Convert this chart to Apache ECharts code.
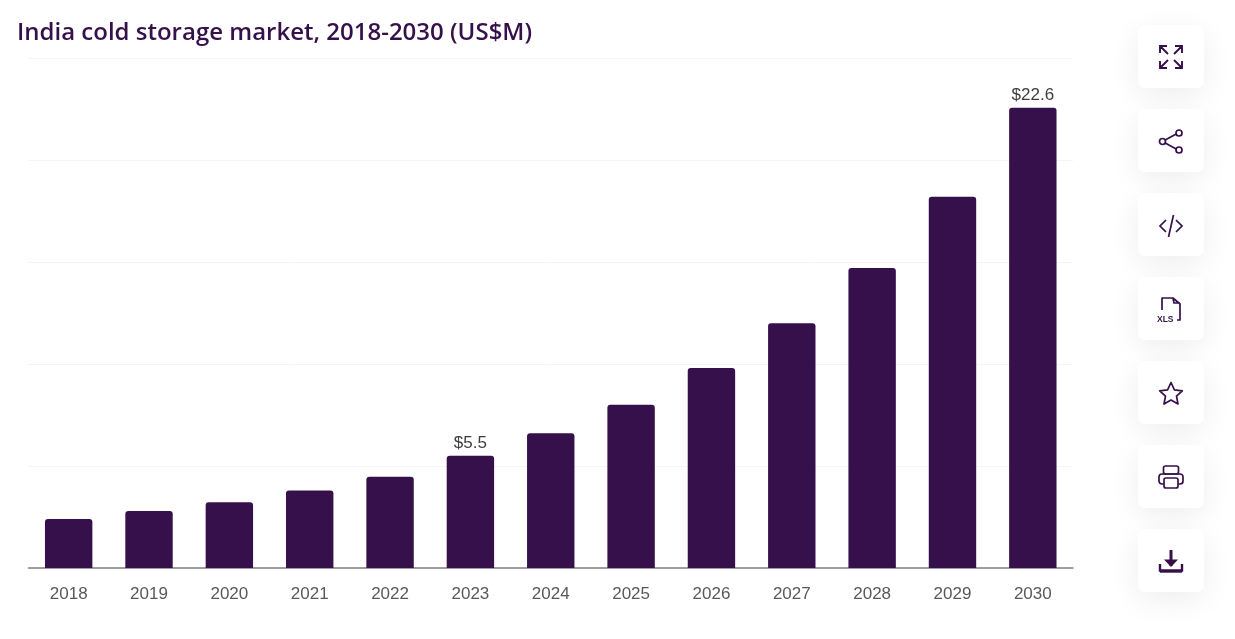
<!DOCTYPE html>
<html>
<head>
<meta charset="utf-8">
<title>India cold storage market</title>
<script src="https://cdn.jsdelivr.net/npm/echarts@6/dist/echarts.min.js"></script>
<style>
  html, body { margin: 0; padding: 0; background: #fff; overflow: hidden; }
  #chart { position: absolute; left: 0; top: 0; width: 1235px; height: 639px; }
  #tools { position: absolute; left: 1138px; top: 25px; }
  .tool {
    width: 66px; height: 63px; margin-bottom: 21px; background: #fff; border-radius: 7px;
    box-shadow: 0 8px 30px rgba(0, 0, 0, 0.07);
    display: flex; align-items: center; justify-content: center;
  }
  .tool svg { width: 28px; height: 28px; fill: none; stroke: #36104a; stroke-width: 1.7; }
</style>
</head>
<body>
<div id="chart"></div>
<div id="tools">
  <div class="tool"><svg viewBox="0 0 28 28" style="stroke-width:1.9"><path d="M3 3l8 8M3 10V3h7M25 3l-8 8M18 3h7v7M3 25l8-8M3 18v7h7M25 25l-8-8M25 18v7h-7"/></svg></div>
  <div class="tool"><svg viewBox="0 0 28 28"><circle cx="5.500" cy="14.500" r="3"/><circle cx="22" cy="6" r="3"/><circle cx="22" cy="23" r="3"/><path d="M8.200 13.100l11-6M8.200 15.900l11 6"/></svg></div>
  <div class="tool"><svg viewBox="0 0 28 28"><path d="M9 9l-6 6 6 6M19 9l6 6-6 6M16.500 4l-5 22"/></svg></div>
  <div class="tool"><svg viewBox="0 0 28 28"><path d="M5 15V3h11l7 6v16h-3M16 3l1 5h6" stroke-linejoin="round"/><text x="0" y="27" font-family="Liberation Sans" font-size="8.500" font-weight="700" fill="#36104a" stroke="none">XLS</text></svg></div>
  <div class="tool"><svg viewBox="0 0 28 28"><path d="M14 3.500l3.400 7.300 7.900 1-5.800 5.400 1.500 7.800-7-3.900-7 3.900 1.500-7.800-5.800-5.400 7.900-1z" stroke-linejoin="round"/></svg></div>
  <div class="tool"><svg viewBox="0 0 28 28"><rect x="6.500" y="3" width="15" height="8" rx="2"/><path d="M7 21H5a3 3 0 0 1-3-3v-4a3 3 0 0 1 3-3h18a3 3 0 0 1 3 3v4a3 3 0 0 1-3 3h-2"/><rect x="7" y="15" width="14" height="10" rx="2"/></svg></div>
  <div class="tool"><svg viewBox="0 0 28 28"><path d="M14 3v16" style="stroke-width:3"/><path d="M7 12.500h14L14 20z" fill="#36104a" stroke="none"/><path d="M3 17v6.500h22V17" style="stroke-width:2.400"/><path d="M3 24.500h22" style="stroke-width:2.400"/></svg></div>
</div>
<script>
  const categories = ['2018', '2019', '2020', '2021', '2022', '2023', '2024', '2025', '2026', '2027', '2028', '2029', '2030'];
  const marketValues = [2.4, 2.8, 3.22, 3.8, 4.47, 5.5, 6.6, 8.0, 9.8, 12.0, 14.7, 18.2, 22.56];
  const labelledYears = ['2023', '2030'];

  const chart = echarts.init(document.getElementById('chart'));
  chart.setOption({
    animation: false,
    title: {
      text: 'India cold storage market, 2018-2030 (US$M)',
      left: 12,
      top: 16,
      textStyle: {
        fontFamily: 'Open Sans',
        fontSize: 24,
        fontWeight: 600,
        color: '#36104a'
      }
    },
    grid: { left: 28.5, right: 162, top: 58, bottom: 71 },
    xAxis: {
      type: 'category',
      data: categories,
      axisTick: { show: false },
      axisLine: { lineStyle: { color: '#808080', width: 1.5 } },
      axisLabel: { fontFamily: 'Liberation Sans', fontSize: 17, color: '#595959', margin: 18 }
    },
    yAxis: {
      type: 'value',
      min: 0,
      max: 25,
      interval: 5,
      axisLabel: { show: false },
      axisLine: { show: false },
      axisTick: { show: false },
      splitLine: { lineStyle: { color: '#f4f4f4', width: 1 } }
    },
    series: [{
      type: 'bar',
      barWidth: '59%',
      itemStyle: { color: '#36104a', borderRadius: [3, 3, 0, 0] },
      data: marketValues.map(function(v, i) {
        return {
          value: v,
          label: {
            show: labelledYears.includes(categories[i]),
            position: 'top',
            distance: 4,
            formatter: function(p) { return '$' + p.value.toFixed(1); },
            fontFamily: 'Liberation Sans',
            fontSize: 17,
            color: '#3d3d3d'
          }
        };
      })
    }]
  });
</script>
</body>
</html>
